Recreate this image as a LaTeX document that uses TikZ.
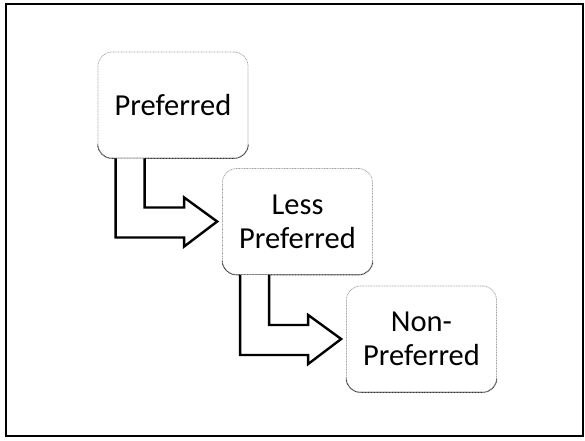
\documentclass[tikz,border=0pt]{standalone}
\usepackage{fontspec}
\setmainfont{Carlito}
\usetikzlibrary{calc}
\begin{document}
\begin{tikzpicture}[x=1pt,y=1pt,
  stagebox/.style={draw=gray!75, line width=0.7pt, dash pattern=on 0.9pt off 0.7pt,
    rounded corners=14pt, minimum width=150pt, minimum height=106pt,
    inner sep=0pt, align=center, font=\fontsize{30.5}{34}\selectfont},
  bentarrow/.style={draw=black, fill=white, line width=2.4pt, line join=miter}]
  \useasboundingbox (0,0) rectangle (585,440);
  % outer frame
  \draw[line width=2pt] (6,4.5) rectangle (583,435.5);

  % the three stages
  \node[stagebox] (pref) at (173,335) {Preferred};
  \node[stagebox] (less) at (297.5,218.5) {Less\\Preferred};
  \node[stagebox] (non)  at (421.5,101) {Non-\\Preferred};

  % darker lower rim of each stage box
  \foreach \b in {pref,less,non}
    \draw[gray!40!black, line width=0.8pt, dash pattern=on 1pt off 0.5pt]
      ([yshift=14pt]\b.south west) arc[start angle=180, end angle=270, radius=14pt]
      -- ([xshift=-14pt]\b.south east) arc[start angle=270, end angle=360, radius=14pt];

  % bent block arrow from the bottom of one stage to the side of the next
  \newcommand\stagestep[2]{%
    \draw[bentarrow] let \p1=(#1.south west), \p2=(#2.west) in
      (\x1+18pt,\y1) -- (\x1+18pt,\y2-16pt) -- (\x2-38pt,\y2-16pt)
      -- (\x2-38pt,\y2-25pt) -- (\x2-5pt,\y2) -- (\x2-38pt,\y2+24pt)
      -- (\x2-38pt,\y2+14pt) -- (\x1+47pt,\y2+14pt) -- (\x1+47pt,\y1);}
  \stagestep{pref}{less}
  \stagestep{less}{non}
\end{tikzpicture}
\end{document}
